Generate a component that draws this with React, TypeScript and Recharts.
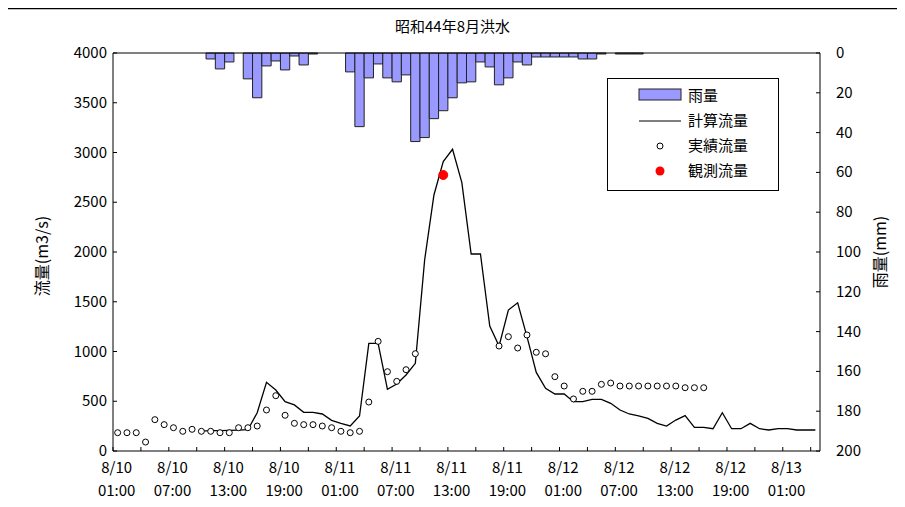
import React from 'react';
import { ComposedChart, Bar, Line, XAxis, YAxis, ReferenceLine } from 'recharts';

// hourly series, index 0 = 8/10 01:00
const rain = [
  0, 0, 0, 0, 0, 0, 0, 0, 0, 0,
  3, 8, 4.5, 0, 13, 22.5, 6.5, 4, 8.5, 1.5, 6, 0.5,
  0, 0, 0,
  9.5, 37, 12.5, 5.5, 12.5, 14.5, 11, 44.5,
  42.5, 33, 29, 22.5, 15, 14.5, 4.5, 7, 16, 12.5, 4.5, 6, 2, 2, 2, 2, 2, 3, 3, 0.5,
  0, 0.5, 0.5, 0.5,
  0, 0, 0, 0, 0, 0, 0, 0, 0, 0, 0, 0, 0, 0, 0, 0, 0, 0, 0,
];

const calcFlow = [
  null, null, null, null, null, null, null, null, null,
  200, 205, 205, 208, 210, 214, 385, 690, 613, 496, 463, 389, 389, 372, 308, 278, 252,
  352, 1082, 1082, 620, 673, 764, 881, 1920, 2573, 2908, 3032, 2697, 1980, 1980, 1256, 1055,
  1417, 1490, 1150, 790, 630, 573, 573, 496, 496, 519, 519, 479, 412, 372, 352, 328, 278, 251,
  311, 355, 238, 238, 224, 385, 224, 224, 278, 224, 211, 224, 224, 211, 211, 211,
];

const obsFlow = [
  184, 184, 184, 90, 315, 265, 234, 198, 218, 198, 198, 184, 184, 234, 234, 251, 412, 556,
  359, 278, 265, 265, 251, 234, 198, 184, 198, 492, 1102, 797, 700, 817, 978,
  null, null, null, null, null, null, null, null,
  1055, 1149, 1035, 1166, 992, 977, 747, 653, 523, 600, 600, 670, 683,
  653, 653, 653, 653, 653, 653, 653, 636, 636, 636,
  null, null, null, null, null, null, null, null, null, null, null, null,
];

// single gauged peak
const measIndex = 35;
const measValue = 2774;

const xLabels = [
  ['8/10', '01:00'], ['8/10', '07:00'], ['8/10', '13:00'], ['8/10', '19:00'],
  ['8/11', '01:00'], ['8/11', '07:00'], ['8/11', '13:00'], ['8/11', '19:00'],
  ['8/12', '01:00'], ['8/12', '07:00'], ['8/12', '13:00'], ['8/12', '19:00'],
  ['8/13', '01:00'],
];

const flowTicks = [0, 500, 1000, 1500, 2000, 2500, 3000, 3500, 4000];
const rainTicks = [0, 20, 40, 60, 80, 100, 120, 140, 160, 180, 200];

const N = rain.length;
const data = rain.map((r, i) => ({
  x: i + 0.5,
  rain: r,
  calc: calcFlow[i],
  obs: obsFlow[i],
  meas: i === measIndex ? measValue : null,
}));

const tickMarks = Array.from({ length: Math.floor(N / 3) + 1 }, (_, k) => k * 3);
const labelPos = xLabels.map((_, k) => k * 6 + 0.4);
const xTicks = [...tickMarks, ...labelPos].sort((a, b) => a - b);

const FONT = '"Noto Sans CJK JP", sans-serif';

const XTick = (props: any) => {
  const { x, y, payload } = props;
  const v = payload.value;
  if (v % 3 === 0) {
    return <line x1={x} x2={x} y1={y} y2={y - 4} stroke="#000" />;
  }
  const lbl = xLabels[Math.round((v - 0.4) / 6)];
  return (
    <text x={x} y={y} textAnchor="middle" fontSize={15} fontFamily={FONT} fill="#000">
      <tspan x={x} dy={22}>{lbl[0]}</tspan>
      <tspan x={x} dy={23}>{lbl[1]}</tspan>
    </text>
  );
};

const LeftTick = (props: any) => {
  const { x, y, payload } = props;
  return (
    <g>
      <line x1={x} x2={x + 4} y1={y} y2={y} stroke="#000" />
      <text x={x - 6} y={y} dy={5} textAnchor="end" fontSize={15} fontFamily={FONT} fill="#000">
        {payload.value}
      </text>
    </g>
  );
};

const RightTick = (props: any) => {
  const { x, y, payload } = props;
  return (
    <g>
      <line x1={x} x2={x - 4} y1={y} y2={y} stroke="#000" />
      <text x={x + 16} y={y} dy={5} textAnchor="start" fontSize={15} fontFamily={FONT} fill="#000">
        {payload.value}
      </text>
    </g>
  );
};

function LegendBox() {
  const rowText: React.CSSProperties = {
    position: 'absolute', left: 80, fontSize: 15, fontFamily: FONT, lineHeight: '16px', color: '#000',
  };
  return (
    <div style={{
      position: 'absolute', left: 607, top: 78, width: 170, height: 111,
      border: '1px solid #000', background: '#fff',
    }}>
      <svg width={170} height={111} style={{ position: 'absolute', left: 0, top: 0 }}>
        <rect x={31} y={10} width={42} height={11} fill="#9999ff" stroke="#222" />
        <line x1={31} x2={73} y1={42} y2={42} stroke="#000" strokeWidth={1.2} />
        <circle cx={52} cy={67} r={3} fill="#fff" stroke="#000" />
        <circle cx={52} cy={92} r={4.5} fill="#ff0000" />
      </svg>
      <div style={{ ...rowText, top: 8 }}>雨量</div>
      <div style={{ ...rowText, top: 33 }}>計算流量</div>
      <div style={{ ...rowText, top: 58 }}>実績流量</div>
      <div style={{ ...rowText, top: 83 }}>観測流量</div>
    </div>
  );
}

export default function App() {
  return (
    <div style={{ position: 'relative', width: 905, height: 507, margin: '-8px 0 0 -8px', overflow: 'hidden', background: '#fff' }}>
      <div style={{
        position: 'absolute', left: 0, top: 15, width: 905, textAlign: 'center',
        fontSize: 15, fontFamily: FONT, color: '#000',
      }}>
        昭和44年8月洪水
      </div>
      <div style={{ position: 'absolute', left: 0, top: 0 }}>
        <ComposedChart width={905} height={515} data={data} margin={{ top: 53, right: 0, bottom: 14, left: 0 }}>
          <XAxis
            dataKey="x"
            type="number"
            domain={[0, N]}
            ticks={xTicks}
            interval={0}
            tickSize={0}
            tickMargin={0}
            tickLine={false}
            tick={<XTick />}
            axisLine={{ stroke: '#000' }}
            height={50}
          />
          <YAxis
            yAxisId="flow"
            domain={[0, 4000]}
            ticks={flowTicks}
            interval={0}
            tickSize={0}
            tickMargin={0}
            tickLine={false}
            tick={<LeftTick />}
            axisLine={{ stroke: '#000' }}
            width={113}
            label={{
              value: '流量(m3/s)', angle: -90, position: 'insideLeft', offset: 42, dy: 4,
              style: { fontSize: 16, fontFamily: FONT, fill: '#000', textAnchor: 'middle' },
            }}
          />
          <YAxis
            yAxisId="rain"
            orientation="right"
            reversed
            domain={[0, 200]}
            ticks={rainTicks}
            interval={0}
            tickSize={0}
            tickMargin={0}
            tickLine={false}
            tick={<RightTick />}
            axisLine={{ stroke: '#000' }}
            width={85}
            label={{
              value: '雨量(mm)', angle: -90, position: 'insideRight', offset: 25,
              style: { fontSize: 16, fontFamily: FONT, fill: '#000', textAnchor: 'middle' },
            }}
          />
          <ReferenceLine yAxisId="flow" y={4000} stroke="#000" />
          <Bar yAxisId="rain" dataKey="rain" fill="#9999ff" stroke="#222" strokeWidth={1} barSize={9.3} isAnimationActive={false} />
          <Line yAxisId="flow" dataKey="calc" stroke="#000" strokeWidth={1.3} dot={false} activeDot={false} isAnimationActive={false} />
          <Line
            yAxisId="flow"
            dataKey="obs"
            stroke="none"
            dot={{ r: 3, fill: '#fff', stroke: '#000', strokeWidth: 1 }}
            activeDot={false}
            isAnimationActive={false}
          />
          <Line
            yAxisId="flow"
            dataKey="meas"
            stroke="none"
            dot={{ r: 4.5, fill: '#ff0000', stroke: '#ff0000', strokeWidth: 1 }}
            activeDot={false}
            isAnimationActive={false}
          />
        </ComposedChart>
      </div>
      <LegendBox />
      {/* outer frame of the chart sheet */}
      <svg width={905} height={507} style={{ position: 'absolute', left: 0, top: 0, pointerEvents: 'none' }}>
        <path d="M5 520 V8.5 H902 V520" fill="none" stroke="#000" strokeWidth={1.5} />
      </svg>
    </div>
  );
}
